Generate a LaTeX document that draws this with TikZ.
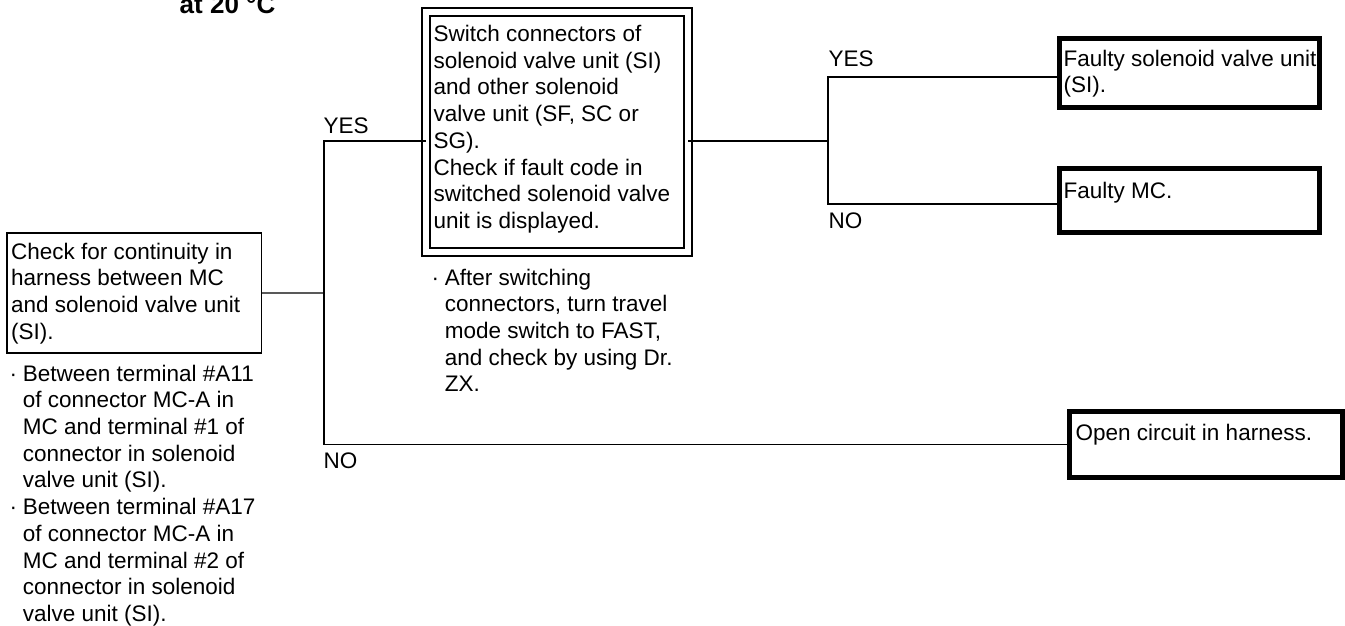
\documentclass[tikz,border=0pt]{standalone}
\usepackage{fontspec}
\setmainfont{Liberation Sans}
\usepackage{tikz}
\usetikzlibrary{positioning}
\newcommand{\chartfont}{\fontsize{16}{19}\selectfont}
\newcommand{\hangdot}{\makebox[0.33cm][l]{·}}
\newcommand{\hangin}{\hspace*{0.33cm}}

\begin{document}
\begin{tikzpicture}[x=0.025cm, y=-0.025cm, font=\chartfont, line width=1pt,
  stepbox/.style={draw, line width=1pt, anchor=north west, inner sep=0, outer sep=0},
  checkbox/.style={draw, double, double distance=4.3pt, line width=1.6pt, anchor=north west, inner sep=0, outer sep=0},
  resultbox/.style={draw, line width=3.6pt, anchor=north west, inner sep=0, outer sep=0},
  boxtext/.style={anchor=north west, inner sep=0, align=left},
  answer/.style={anchor=base west, inner sep=0}]
  \useasboundingbox (0,0) rectangle (1345,625);
  \node[font=\bfseries\fontsize{18.5}{22}\selectfont, anchor=base west, inner sep=0] (title) at (179,13) {at 20 °C};

  % first check
  \node[stepbox, minimum width=6.36cm, minimum height=3.0cm] (chk) at (7,233) {};
  \node[boxtext] (chktxt) at ([shift={(3.5,9)}]chk.north west) {Check for continuity in\\harness between MC\\and solenoid valve unit\\(SI).};
  \node[boxtext] (chknote) at ([shift={(2,11)}]chk.south west) {\hangdot Between terminal \#A11\\\hangin of connector MC-A in\\\hangin MC and terminal \#1 of\\\hangin connector in solenoid\\\hangin valve unit (SI).\\\hangdot Between terminal \#A17\\\hangin of connector MC-A in\\\hangin MC and terminal \#2 of\\\hangin connector in solenoid\\\hangin valve unit (SI).};

  % switch check
  \node[checkbox, minimum width=6.55cm, minimum height=6.0cm] (sw) at (426,12) {};
  \node[boxtext] (swtxt) at ([shift={(7,12.5)}]sw.north west) {Switch connectors of\\solenoid valve unit (SI)\\and other solenoid\\valve unit (SF, SC or\\SG).\\Check if fault code in\\switched solenoid valve\\unit is displayed.};
  \node[boxtext] (swnote) at ([shift={(5,16)}]sw.south west) {\hangdot After switching\\\hangin connectors, turn travel\\\hangin mode switch to FAST,\\\hangin and check by using Dr.\\\hangin ZX.};

  % results
  \node[resultbox, minimum width=6.5cm, minimum height=1.725cm] (fsv) at (1059.5,38.5) {};
  \node[boxtext] (fsvtxt) at ([shift={(3.5,10.5)}]fsv.north west) {Faulty solenoid valve unit\\(SI).};
  \node[resultbox, minimum width=6.5cm, minimum height=1.6cm] (fmc) at (1059.5,168.5) {};
  \node[boxtext] (fmctxt) at ([shift={(3.5,12.5)}]fmc.north west) {Faulty MC.};
  \node[resultbox, minimum width=6.825cm, minimum height=1.65cm] (opn) at (1069.5,411.5) {};
  \node[boxtext] (opntxt) at ([shift={(5.5,11.5)}]opn.north west) {Open circuit in harness.};

  % branches
  \coordinate (jA) at (324,293);
  \coordinate (jAyes) at (324,141);
  \coordinate (jAno) at (jA |- opn.west);
  \coordinate (jB) at (828,141);
  \coordinate (jByes) at (828,77);
  \coordinate (jBno) at (828,204);
  \draw (chk.east) -- (jA);
  \draw (sw.west |- jAyes) -- (jAyes) -- (jAno) -- (opn.west);
  \draw (sw.east |- jB) -- (jB);
  \draw (fsv.west |- jByes) -- (jByes) -- (jBno) -- (fmc.west |- jBno);
  \node[answer] (yesA) at ([shift={(-1,-8)}]jAyes) {YES};
  \node[answer] (noA) at ([shift={(-1,23.5)}]jAno) {NO};
  \node[answer] (yesB) at ([shift={(0,-11)}]jByes) {YES};
  \node[answer] (noB) at ([shift={(0,24)}]jBno) {NO};
\end{tikzpicture}
\end{document}
